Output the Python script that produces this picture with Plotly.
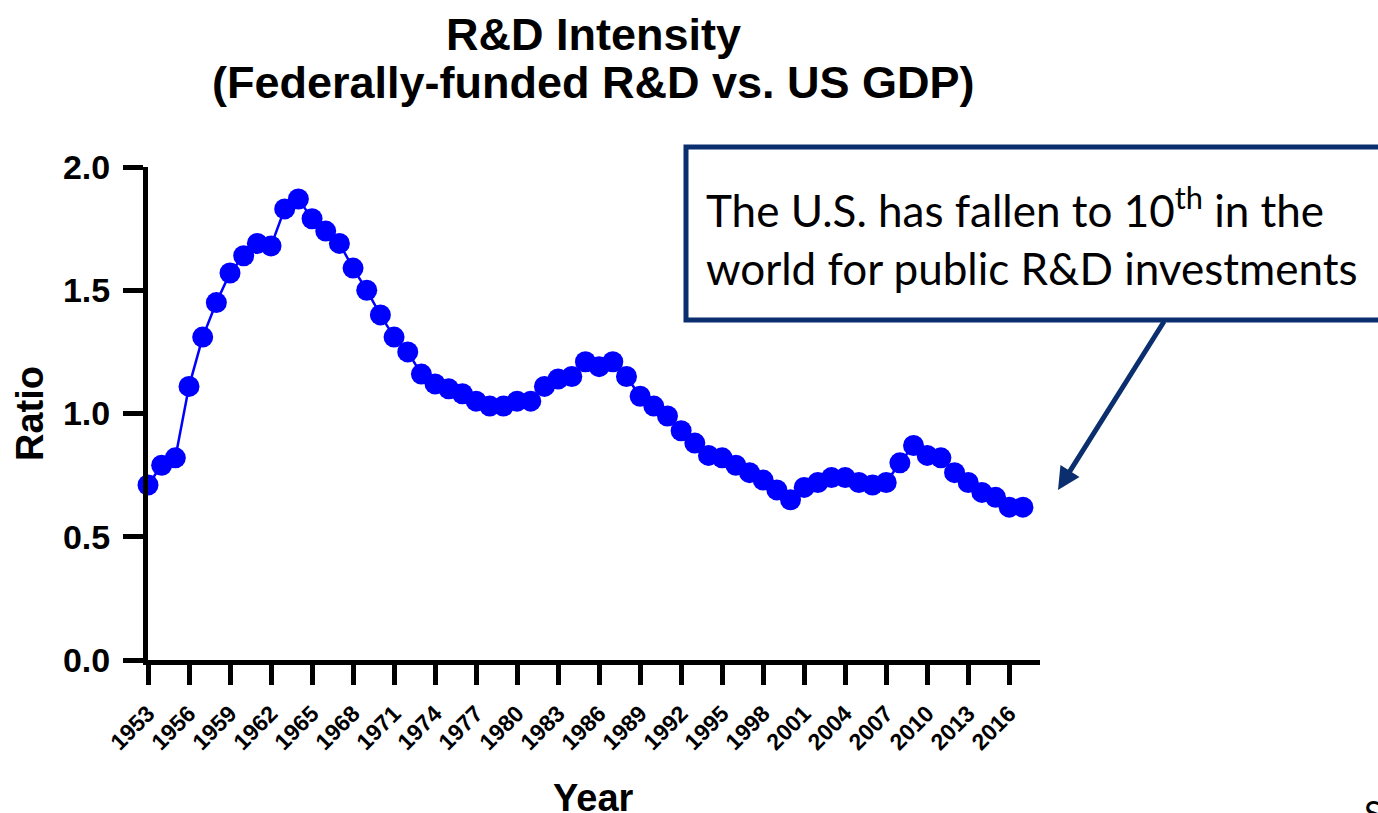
import plotly.graph_objects as go

# Federally-funded R&D as a share of US GDP, by year
years = list(range(1953, 2018))
ratio = [
    0.71, 0.79, 0.82, 1.11, 1.31, 1.45, 1.57, 1.64, 1.69, 1.68,   # 1953-1962
    1.83, 1.87, 1.79, 1.74, 1.69, 1.59, 1.50, 1.40, 1.31, 1.25,   # 1963-1972
    1.16, 1.12, 1.10, 1.08, 1.05, 1.03, 1.03, 1.05, 1.05, 1.11,   # 1973-1982
    1.14, 1.15, 1.21, 1.19, 1.21, 1.15, 1.07, 1.03, 0.99, 0.93,   # 1983-1992
    0.88, 0.83, 0.82, 0.79, 0.76, 0.73, 0.69, 0.65, 0.70, 0.72,   # 1993-2002
    0.74, 0.74, 0.72, 0.71, 0.72, 0.80, 0.87, 0.83, 0.82, 0.76,   # 2003-2012
    0.72, 0.68, 0.66, 0.62, 0.62,                                 # 2013-2017
]

x_tick_years = [1953, 1956, 1959, 1962, 1965, 1968, 1971, 1974, 1977, 1980, 1983,
                1986, 1989, 1992, 1995, 1998, 2001, 2004, 2007, 2010, 2013, 2016]
x_tick_labels = [str(y) for y in x_tick_years]
y_tick_vals = [0.0, 0.5, 1.0, 1.5, 2.0]
y_tick_labels = ["0.0", "0.5", "1.0", "1.5", "2.0"]

W, H = 1378, 813
L, R, T, B = 148, 338, 167, 153
PW, PH = W - L - R, H - T - B

NAVY = "#0B2F6E"
BLUE = "#0000FF"
BOLD = "Liberation Sans"
CAL = "Lato"


def px(x):
    return (x - L) / PW


def py(y):
    return (H - B - y) / PH


fig = go.Figure()
fig.add_trace(go.Scatter(
    x=years, y=ratio, mode="lines+markers",
    line=dict(color=BLUE, width=2.5),
    marker=dict(color=BLUE, size=21),
    cliponaxis=False, showlegend=False,
))

axis_common = dict(
    showline=True, linecolor="black", linewidth=5,
    ticks="outside", ticklen=20, tickwidth=5, tickcolor="black",
    showgrid=False, zeroline=False,
)

fig.update_xaxes(
    range=[1953, 2018.25], tickmode="array",
    tickvals=x_tick_years, ticktext=x_tick_labels, tickangle=-45,
    tickfont=dict(family=BOLD, size=23, color="black", weight="bold"),
    ticklabelstandoff=6,
    **axis_common,
)
fig.update_yaxes(
    range=[0, 2], tickmode="array",
    tickvals=y_tick_vals, ticktext=y_tick_labels,
    tickfont=dict(family=BOLD, size=34, color="black", weight="bold"),
    ticklabelstandoff=6,
    **axis_common,
)

annotations = [
    dict(text="R&D Intensity", x=px(593), y=py(34),
         font=dict(family=BOLD, size=45, color="black", weight="bold")),
    dict(text="(Federally-funded R&D vs. US GDP)", x=px(593), y=py(82),
         font=dict(family=BOLD, size=45, color="black", weight="bold")),
    dict(text="Ratio", x=px(30), y=py(414), textangle=-90,
         font=dict(family=BOLD, size=38, color="black", weight="bold")),
    dict(text="Year", x=px(593), y=py(775), yanchor="top",
         font=dict(family=BOLD, size=38, color="black", weight="bold")),
    dict(text="The U.S. has fallen to 10<sup>th</sup> in the", x=px(704), y=py(208),
         xanchor="left", font=dict(family=CAL, size=44, color="black")),
    dict(text="world for public R&D investments", x=px(704), y=py(268),
         xanchor="left", font=dict(family=CAL, size=44, color="black")),
    dict(text="S", x=px(1362), y=py(790), xanchor="left", yanchor="top",
         font=dict(family=CAL, size=34, color="black")),
    # arrow from the callout box down to the latest values
    dict(text="", x=px(1058), y=py(490), ax=107, ay=-170,
         showarrow=True, arrowhead=2, arrowsize=0.9, arrowwidth=5,
         arrowcolor=NAVY),
]
for a in annotations:
    a.setdefault("xref", "paper")
    a.setdefault("yref", "paper")
    a.setdefault("showarrow", False)
    a.setdefault("xanchor", "center")
    a.setdefault("yanchor", "middle")

fig.update_layout(
    width=W, height=H,
    margin=dict(l=L, r=R, t=T, b=B, autoexpand=False),
    paper_bgcolor="white", plot_bgcolor="white",
    annotations=annotations,
    shapes=[dict(type="rect", xref="paper", yref="paper",
                 x0=px(686), x1=px(1395), y0=py(320), y1=py(147),
                 line=dict(color=NAVY, width=5), fillcolor="rgba(0,0,0,0)",
                 layer="above")],
)

fig.write_html("out.html")
